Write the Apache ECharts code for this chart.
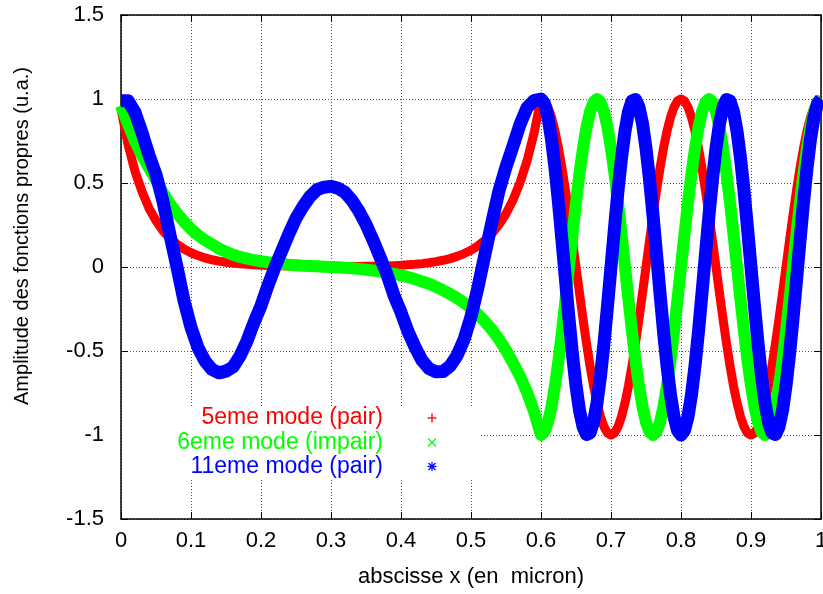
<!DOCTYPE html>
<html><head><meta charset="utf-8">
<script src="https://cdn.jsdelivr.net/npm/echarts@6/dist/echarts.min.js"></script>
<style>html,body{margin:0;padding:0;background:#fff}#c{width:823px;height:594px}</style>
</head><body><div id="c"></div>
<script>
// abscissa samples (micron)
const xValues = [
0,0.01,0.02,0.03,0.04,0.05,0.06,0.07,0.08,0.09,
0.1,0.11,0.12,0.13,0.14,0.15,0.16,0.17,0.18,0.19,
0.2,0.21,0.22,0.23,0.24,0.25,0.26,0.27,0.28,0.29,
0.3,0.31,0.32,0.33,0.34,0.35,0.36,0.37,0.38,0.39,
0.4,0.41,0.42,0.43,0.44,0.45,0.46,0.47,0.48,0.49,
0.5,0.51,0.52,0.53,0.54,0.55,0.56,0.57,0.58,0.59,
0.6,0.605,0.61,0.615,0.62,0.625,0.63,0.635,0.64,0.645,
0.65,0.655,0.66,0.665,0.67,0.675,0.68,0.685,0.69,0.695,
0.7,0.705,0.71,0.715,0.72,0.725,0.73,0.735,0.74,0.745,
0.75,0.755,0.76,0.765,0.77,0.775,0.78,0.785,0.79,0.795,
0.8,0.805,0.81,0.815,0.82,0.825,0.83,0.835,0.84,0.845,
0.85,0.855,0.86,0.865,0.87,0.875,0.88,0.885,0.89,0.895,
0.9,0.905,0.91,0.915,0.92,0.925,0.93,0.935,0.94,0.945,
0.95,0.955,0.96,0.965,0.97,0.975,0.98,0.985,0.99,0.995,
1];

// 5eme mode (pair)
const mode5 = [
0.94,0.73,0.57,0.45,0.35,0.275,0.215,0.17,0.135,0.107,
0.085,0.068,0.054,0.043,0.035,0.028,0.023,0.019,0.016,0.013,
0.011,0.009,0.008,0.007,0.006,0.005,0.004,0.004,0.003,0.003,
0.003,0.003,0.003,0.003,0.003,0.004,0.004,0.005,0.006,0.008,
0.010,0.013,0.016,0.020,0.025,0.032,0.040,0.050,0.063,0.080,
0.100,0.126,0.159,0.200,0.252,0.317,0.399,0.502,0.631,0.795,
1,0.988,0.951,0.891,0.809,0.707,0.588,0.454,0.309,0.156,
0,-0.156,-0.309,-0.454,-0.588,-0.707,-0.809,-0.891,-0.951,-0.988,
-1,-0.988,-0.951,-0.891,-0.809,-0.707,-0.588,-0.454,-0.309,-0.156,
0,0.156,0.309,0.454,0.588,0.707,0.809,0.891,0.951,0.988,
1,0.988,0.951,0.891,0.809,0.707,0.588,0.454,0.309,0.156,
0,-0.156,-0.309,-0.454,-0.588,-0.707,-0.809,-0.891,-0.951,-0.988,
-1,-0.988,-0.951,-0.891,-0.809,-0.707,-0.588,-0.454,-0.309,-0.156,
0,0.156,0.309,0.454,0.588,0.707,0.809,0.891,0.951,0.988,
1];

// 6eme mode (impair)
const mode6 = [
0.96,0.85,0.75,0.665,0.59,0.52,0.44,0.375,0.32,0.27,
0.225,0.19,0.16,0.135,0.11,0.09,0.073,0.06,0.05,0.041,
0.034,0.028,0.023,0.018,0.014,0.011,0.008,0.006,0.004,0.002,
0,-0.002,-0.004,-0.007,-0.011,-0.016,-0.021,-0.027,-0.034,-0.041,
-0.05,-0.06,-0.072,-0.086,-0.1,-0.118,-0.138,-0.16,-0.185,-0.213,
-0.245,-0.282,-0.325,-0.374,-0.43,-0.495,-0.57,-0.65,-0.745,-0.86,
-1,-0.981,-0.924,-0.831,-0.707,-0.556,-0.383,-0.195,0,0.195,
0.383,0.556,0.707,0.831,0.924,0.981,1,0.981,0.924,0.831,
0.707,0.556,0.383,0.195,0,-0.195,-0.383,-0.556,-0.707,-0.831,
-0.924,-0.981,-1,-0.981,-0.924,-0.831,-0.707,-0.556,-0.383,-0.195,
0,0.195,0.383,0.556,0.707,0.831,0.924,0.981,1,0.981,
0.924,0.831,0.707,0.556,0.383,0.195,0,-0.195,-0.383,-0.556,
-0.707,-0.831,-0.924,-0.981,-1,-0.981,-0.924,-0.831,-0.707,-0.556,
-0.383,-0.195,0,0.195,0.383,0.556,0.707,0.831,0.924,0.981,
1];

// 11eme mode (pair)
const mode11 = [
0.99,0.99,0.92,0.8,0.665,0.55,0.39,0.19,0,-0.2,
-0.36,-0.48,-0.56,-0.61,-0.63,-0.62,-0.595,-0.53,-0.44,-0.33,
-0.23,-0.11,0,0.1,0.2,0.29,0.36,0.42,0.46,0.475,
0.48,0.469,0.444,0.396,0.332,0.254,0.16,0.06,-0.044,-0.17,
-0.27,-0.384,-0.476,-0.556,-0.605,-0.624,-0.622,-0.59,-0.528,-0.432,
-0.296,-0.12,0.076,0.27,0.454,0.596,0.719,0.848,0.948,0.99,
1,0.972,0.891,0.76,0.588,0.383,0.156,-0.078,-0.309,-0.522,
-0.707,-0.853,-0.951,-0.997,-0.988,-0.924,-0.809,-0.649,-0.454,-0.233,
0,0.233,0.454,0.649,0.809,0.924,0.988,0.997,0.951,0.853,
0.707,0.522,0.309,0.078,-0.156,-0.383,-0.588,-0.76,-0.891,-0.972,
-1,-0.972,-0.891,-0.76,-0.588,-0.383,-0.156,0.078,0.309,0.522,
0.707,0.853,0.951,0.997,0.988,0.924,0.809,0.649,0.454,0.233,
0,-0.233,-0.454,-0.649,-0.809,-0.924,-0.988,-0.997,-0.951,-0.853,
-0.707,-0.522,-0.309,-0.078,0.156,0.383,0.588,0.76,0.891,0.972,
1];

const seriesNames = ['5eme mode (pair)', '6eme mode (impair)', '11eme mode (pair)'];
const seriesColors = ['#ff0000', '#00ff00', '#0000ff'];
const xTitle = 'abscisse x (en  micron)';
const yTitle = 'Amplitude des fonctions propres (u.a.)';

const FONT = '"Liberation Sans", Arial, sans-serif';
const chart = echarts.init(document.getElementById('c'), null, {renderer: 'canvas'});

function pairs(ys) { return xValues.map((x, i) => [x, ys[i]]); }
const allData = [mode5, mode6, mode11];
const widths = [9, 12, 13];

const frameLine = {show: true, onZero: false, lineStyle: {color: '#000', width: 1.5}};
const tick = {show: true, inside: true, length: 7, lineStyle: {color: '#000', width: 1}};
const grid = {show: true, lineStyle: {color: '#555', type: [1, 2], width: 1}};

function legendMark(kind, cx, cy, color) {
  const s = 4.5, lines = [];
  if (kind === 'plus' || kind === 'star') {
    lines.push([-s, 0, s, 0], [0, -s, 0, s]);
  }
  if (kind === 'cross' || kind === 'star') {
    const t = kind === 'star' ? 3.5 : 4;
    lines.push([-t, -t, t, t], [-t, t, t, -t]);
  }
  return lines.map(l => ({type: 'line', z: 30,
    shape: {x1: cx + l[0], y1: cy + l[1], x2: cx + l[2], y2: cy + l[3]},
    style: {stroke: color, lineWidth: 1.3}}));
}

const legendRows = [418, 442.5, 466.5];
const marks = ['plus', 'cross', 'star'];
let graphics = [
  {type: 'rect', z: 15, shape: {x: 122, y: 406, width: 358, height: 72}, style: {fill: '#fff'}},
  {type: 'text', x: 22, y: 236, rotation: Math.PI / 2, z: 20,
   style: {text: yTitle, fill: '#000', fontSize: 20, fontFamily: FONT, align: 'center', verticalAlign: 'middle'}}
];
seriesNames.forEach((n, i) => {
  graphics.push({type: 'text', x: 383, y: legendRows[i], z: 20,
    style: {text: n, fill: seriesColors[i], fontSize: 23, fontFamily: FONT, align: 'right', verticalAlign: 'middle'}});
  graphics = graphics.concat(legendMark(marks[i], 432, legendRows[i], seriesColors[i]));
});

const option = {
  animation: false,
  backgroundColor: '#fff',
  textStyle: {fontFamily: FONT},
  grid: {left: 121, right: 2, top: 15, bottom: 75, containLabel: false, outerBoundsMode: 'none'},
  xAxis: [
    {type: 'value', min: 0, max: 1, interval: 0.1, position: 'bottom',
     axisLine: frameLine, axisTick: tick, splitLine: grid,
     axisLabel: {fontSize: 22, color: '#000', margin: 11, fontFamily: FONT},
     name: xTitle, nameLocation: 'middle', nameGap: 47,
     nameTextStyle: {fontSize: 22, color: '#000', fontFamily: FONT}},
    {type: 'value', min: 0, max: 1, interval: 0.1, position: 'top',
     axisLine: frameLine, axisTick: tick, splitLine: {show: false}, axisLabel: {show: false}}
  ],
  yAxis: [
    {type: 'value', min: -1.5, max: 1.5, interval: 0.5, position: 'left',
     axisLine: frameLine, axisTick: tick, splitLine: grid,
     axisLabel: {fontSize: 22, color: '#000', margin: 17, fontFamily: FONT}},
    {type: 'value', min: -1.5, max: 1.5, interval: 0.5, position: 'right',
     axisLine: frameLine, axisTick: tick, splitLine: {show: false}, axisLabel: {show: false}}
  ],
  series: seriesNames.map((n, i) => ({
    name: n, type: 'line', xAxisIndex: 0, yAxisIndex: 0,
    data: pairs(allData[i]), showSymbol: false, symbol: 'none',
    z: 3 + i, clip: true,
    lineStyle: {color: seriesColors[i], width: widths[i], join: 'round', cap: 'butt'},
    emphasis: {disabled: true}
  })),
  graphic: {elements: graphics}
};
chart.setOption(option);
</script></body></html>
